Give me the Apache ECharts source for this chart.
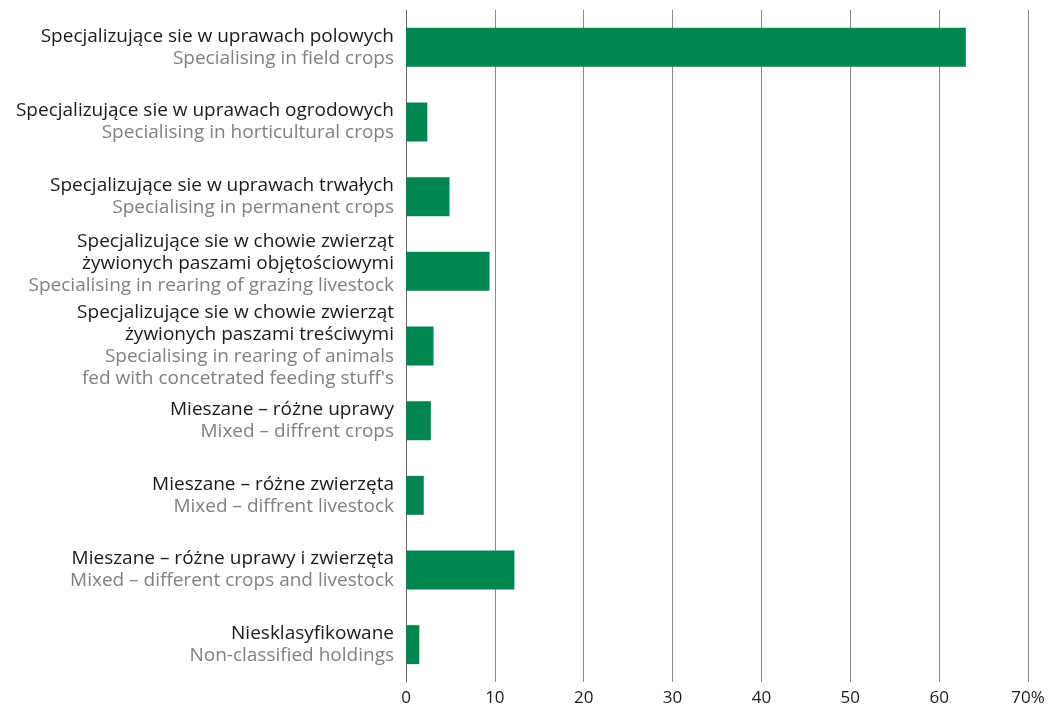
<!DOCTYPE html>
<html><head><meta charset="utf-8">
<script src="https://cdn.jsdelivr.net/npm/echarts@6/dist/echarts.min.js"></script>
<style>html,body{margin:0;padding:0;background:#fff}#c{width:1058px;height:709px}</style>
</head><body><div id="c"></div>
<script>
const labelsPL = [
  "Specjalizujące sie w uprawach polowych",
  "Specjalizujące sie w uprawach ogrodowych",
  "Specjalizujące sie w uprawach trwałych",
  "Specjalizujące sie w chowie zwierząt\nżywionych paszami objętościowymi",
  "Specjalizujące sie w chowie zwierząt\nżywionych paszami treściwymi",
  "Mieszane – różne uprawy",
  "Mieszane – różne zwierzęta",
  "Mieszane – różne uprawy i zwierzęta",
  "Niesklasyfikowane"
];
const labelsEN = [
  "Specialising in field crops",
  "Specialising in horticultural crops",
  "Specialising in permanent crops",
  "Specialising in rearing of grazing livestock",
  "Specialising in rearing of animals\nfed with concetrated feeding stuff's",
  "Mixed – diffrent crops",
  "Mixed – diffrent livestock",
  "Mixed – different crops and livestock",
  "Non-classified holdings"
];
const values = [63.0, 2.4, 4.9, 9.4, 3.1, 2.8, 2.0, 12.2, 1.5];
const xTicks = [0, 10, 20, 30, 40, 50, 60, 70];

const cats = labelsPL.map((p, i) => (i === 3 ? { value: i, textStyle: { padding: [0, 0, 16, 0] } } : i));
const chart = echarts.init(document.getElementById('c'));
const FONT = '"Open Sans", sans-serif';
chart.setOption({
  animation: false,
  grid: { left: 406, right: 30, top: 10, bottom: 27, containLabel: false },
  xAxis: {
    type: 'value', min: 0, max: 70, interval: 10,
    axisLine: { show: false }, axisTick: { show: false },
    splitLine: { show: true, lineStyle: { color: '#8a8a8a', width: 1 } },
    axisLabel: {
      margin: 8, color: '#1a1a1a', fontSize: 17, fontFamily: FONT,
      formatter: v => v === xTicks[xTicks.length - 1] ? v + '%' : String(v)
    }
  },
  yAxis: {
    type: 'category', inverse: true, data: cats,
    axisLine: { show: true, lineStyle: { color: '#666', width: 1 } },
    axisTick: { show: false },
    axisLabel: {
      margin: 12, align: 'right',
      formatter: v => {
        const i = Number(v);
        const pl = labelsPL[i].split('\n').map(s => '{pl|' + s + '}').join('\n');
        const en = labelsEN[i].split('\n').map(s => '{en|' + s + '}').join('\n');
        return pl + '\n' + en;
      },
      rich: {
        pl: { color: '#1a1a1a', fontSize: 19, lineHeight: 22, fontFamily: FONT, align: 'right' },
        en: { color: '#808080', fontSize: 19, lineHeight: 22, fontFamily: FONT, align: 'right' }
      }
    }
  },
  series: [{
    type: 'bar', data: values, barWidth: 39,
    itemStyle: { color: '#008550' }
  }]
});
</script></body></html>
